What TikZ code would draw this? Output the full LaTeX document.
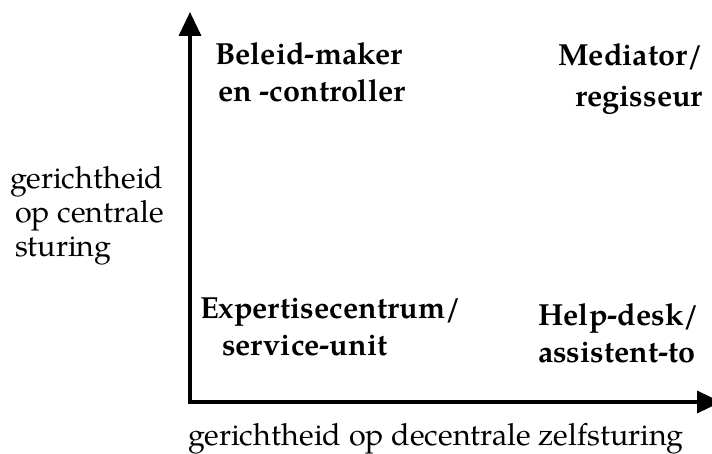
\documentclass[tikz,border=0pt]{standalone}
\usepackage{fontspec}
\setmainfont{texgyrepagella}[Extension=.otf, UprightFont=*-regular, BoldFont=*-bold, ItalicFont=*-italic, BoldItalicFont=*-bolditalic]
\usetikzlibrary{arrows.meta}
\tikzset{
  axis/.style={line width=3.5pt, line join=miter, {Triangle[length=24pt,width=22pt]}-{Triangle[length=24pt,width=22pt]}},
  role/.style={inner sep=0pt, anchor=base west, font=\fontsize{30.5}{36}\selectfont\bfseries},
  lbl/.style={inner sep=0pt, anchor=base west, font=\fontsize{30.5}{36}\selectfont}
}
\begin{document}
\begin{tikzpicture}[x=1pt,y=-1pt]
\path[use as bounding box] (0,0) rectangle (712,454);
\coordinate (ytop) at (190,12);
\coordinate (O) at (190,402);
\coordinate (xend) at (721,402);
\draw[axis] (ytop) -- (O) -- (xend);
% quadrant roles
\node[role] (bm1) at (215,65) {Beleid-maker};
\node[role] (bm2) at (218,102) {en -controller};
\node[role, anchor=base east] (me1) at (703,66) {Mediator/};
\node[role, anchor=base east] (me2) at (703,107) {regisseur};
\node[role] (ex1) at (200,318) {Expertisecentrum/};
\node[role] (ex2) at (222,355) {service-unit};
\node[role] (hd1) at (538,325) {Help-desk/};
\node[role] (hd2) at (538,362) {assistent-to};
% axis labels
\node[lbl] (yl1) at (10,189) {gerichtheid};
\node[lbl] (yl2) at (15,223) {op centrale};
\node[lbl] (yl3) at (15,257) {sturing};
\node[lbl] (xl) at (188,445) {gerichtheid op decentrale zelfsturing};
\end{tikzpicture}
\end{document}
